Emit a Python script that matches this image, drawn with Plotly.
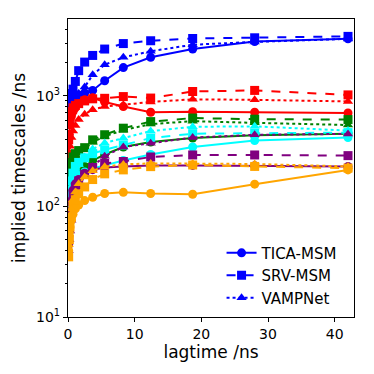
import plotly.graph_objects as go

# lag times (ns)
lagtime = [0.1, 0.2, 0.3, 0.5, 0.75, 1.1, 1.6, 2.5, 3.7, 5.5, 8.3, 12.4, 18.7, 28, 42]

# implied timescales (ns), one list per colour and method
blue_tica = [800, 900, 950, 980, 1000, 1000, 1020, 1060, 1120, 1370, 1800, 2230, 2650, 3100, 3280]
blue_srv = [700, 900, 1000, 1050, 1150, 1350, 1690, 2020, 2320, 2650, 2970, 3150, 3300, 3350, 3450]
blue_vamp = [450, 600, 700, 800, 880, 950, 1050, 1200, 1550, 1910, 2230, 2530, 2900, 3075, 3275]

red_tica = [300, 450, 550, 650, 720, 780, 850, 920, 960, 880, 800, 710, 720, 710, 700]
red_srv = [400, 550, 650, 720, 780, 820, 850, 900, 940, 950, 985, 955, 1095, 1120, 1020]
red_vamp = [200, 280, 350, 420, 480, 540, 610, 680, 750, 800, 830, 880, 930, 920, 890]

green_tica = [80, 110, 130, 150, 170, 190, 205, 230, 260, 295, 345, 382, 415, 440, 455]
green_srv = [150, 190, 220, 250, 280, 300, 320, 340, 400, 445, 510, 585, 630, 615, 610]
green_vamp = [130, 170, 200, 230, 260, 290, 310, 330, 380, 430, 490, 555, 590, 570, 545]

cyan_tica = [70, 100, 120, 140, 160, 175, 190, 205, 220, 235, 260, 295, 345, 395, 420]
cyan_srv = [80, 110, 140, 170, 200, 230, 250, 275, 300, 325, 360, 415, 455, 460, 465]
cyan_vamp = [60, 90, 120, 150, 180, 210, 240, 280, 330, 375, 415, 480, 525, 530, 485]

purple_tica = [45, 60, 80, 110, 140, 160, 175, 200, 215, 225, 230, 235, 235, 233, 230]
purple_srv = [50, 70, 90, 110, 130, 150, 170, 195, 225, 245, 255, 280, 292, 292, 288]
purple_vamp = [40, 50, 60, 75, 100, 130, 150, 190, 230, 285, 345, 372, 420, 444, 453]

orange_tica = [40, 55, 65, 75, 85, 95, 103, 113, 121, 131, 134, 131, 129, 159, 214]
orange_srv = [35, 50, 65, 80, 100, 115, 130, 150, 175, 197, 214, 229, 237, 230, 222]
orange_vamp = [45, 60, 75, 95, 115, 135, 160, 185, 210, 229, 240, 245, 245, 242, 230]

groups = [
    ('blue', blue_tica, blue_srv, blue_vamp),
    ('red', red_tica, red_srv, red_vamp),
    ('green', green_tica, green_srv, green_vamp),
    ('cyan', cyan_tica, cyan_srv, cyan_vamp),
    ('purple', purple_tica, purple_srv, purple_vamp),
    ('orange', orange_tica, orange_srv, orange_vamp),
]

styles = [('solid', 'circle'), ('dash', 'square'), ('dot', 'triangle-up')]
names = ['TICA-MSM', 'SRV-MSM', 'VAMPNet']

fig = go.Figure()

for color, *series in groups:
    for vals, (dash, sym) in zip(series, styles):
        fig.add_trace(go.Scatter(
            x=lagtime, y=vals,
            mode='lines+markers',
            line=dict(color=color, width=2, dash=dash),
            marker=dict(symbol=sym, size=9, color=color),
            showlegend=False, hoverinfo='skip'
        ))

# legend entries (blue only, as in the original)
for name, (dash, sym) in zip(names, styles):
    fig.add_trace(go.Scatter(
        x=[None], y=[None],
        mode='lines+markers',
        name=name,
        line=dict(color='blue', width=2, dash=dash),
        marker=dict(symbol=sym, size=9, color='blue'),
    ))

axis_common = dict(
    showgrid=False, zeroline=False, automargin=False,
    showline=True, linecolor='black', linewidth=1.2, mirror=True,
    ticks='outside', ticklen=4, tickcolor='black',
)

# page body adds an ~8px offset, so margins are shifted to compensate
fig.update_layout(
    width=374, height=374,
    margin=dict(l=60, r=28, t=11, b=65),
    plot_bgcolor='white', paper_bgcolor='white',
    font=dict(family='DejaVu Sans', size=14, color='black'),
    xaxis=dict(
        range=[0, 42.9], tickvals=[0, 10, 20, 30, 40],
        title=dict(text='lagtime /ns', standoff=4),
        **axis_common
    ),
    yaxis=dict(
        type='log', range=[1, 3.695],
        tickvals=[10, 100, 1000], ticktext=['10<sup>1</sup>', '10<sup>2</sup>', '10<sup>3</sup>'],
        minor=dict(ticks='outside', ticklen=2, dtick='D1', tickcolor='black'),
        title=dict(text='implied timescales /ns', standoff=6),
        **axis_common
    ),
    legend=dict(
        x=0.96, y=0.008, xanchor='right', yanchor='bottom',
        bgcolor='rgba(255,255,255,0.8)', font=dict(size=15),
        tracegroupgap=0, itemwidth=30,
    ),
)

fig.write_html("out.html")
